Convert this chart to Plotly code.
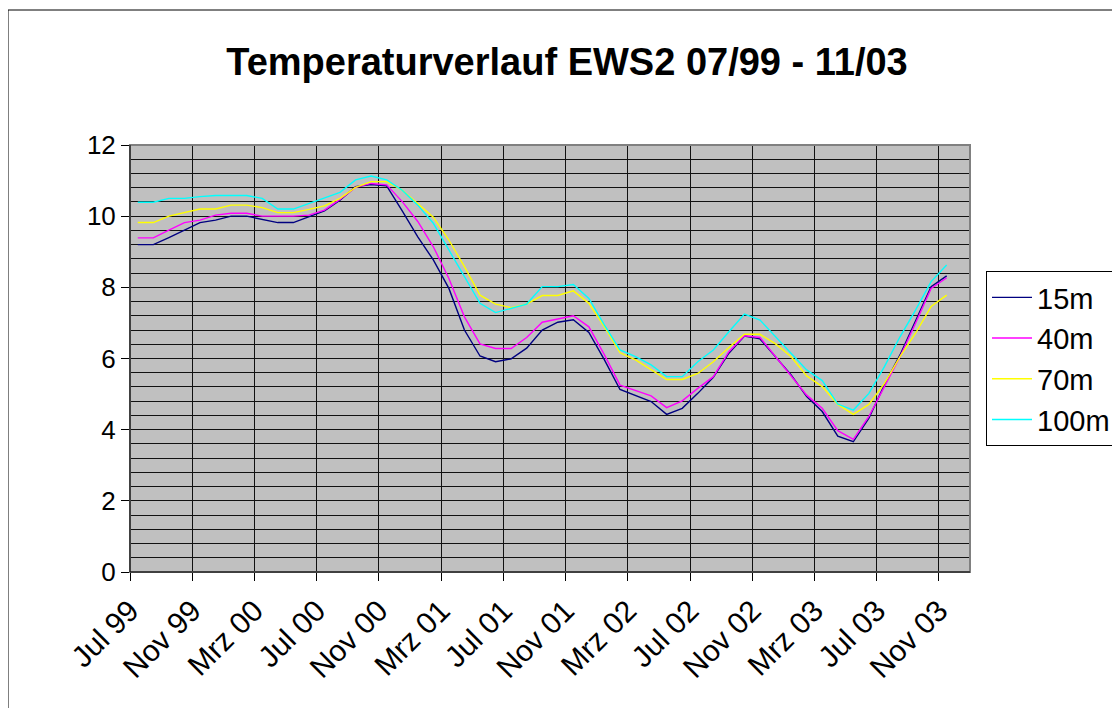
import plotly.graph_objects as go

months = [f"{m} {y:02d}" for y, ms in [(99, ["Jul","Aug","Sep","Okt","Nov","Dez"]),
                                        (0, ["Jan","Feb","Mrz","Apr","Mai","Jun","Jul","Aug","Sep","Okt","Nov","Dez"]),
                                        (1, ["Jan","Feb","Mrz","Apr","Mai","Jun","Jul","Aug","Sep","Okt","Nov","Dez"]),
                                        (2, ["Jan","Feb","Mrz","Apr","Mai","Jun","Jul","Aug","Sep","Okt","Nov","Dez"]),
                                        (3, ["Jan","Feb","Mrz","Apr","Mai","Jun","Jul","Aug","Sep","Okt","Nov"])] for m in ms]

t15 = [9.20, 9.20, 9.40, 9.61, 9.82, 9.89, 10.00, 10.00, 9.91, 9.82, 9.82, 9.99, 10.15, 10.45, 10.83, 10.89, 10.85,
       10.15, 9.42, 8.77, 7.97, 6.80, 6.07, 5.91, 5.99, 6.29, 6.80, 7.02, 7.09, 6.73, 5.96, 5.13, 4.95, 4.79, 4.43,
       4.60, 5.02, 5.47, 6.15, 6.63, 6.55, 6.05, 5.54, 4.93, 4.51, 3.82, 3.66, 4.32, 5.26, 6.10, 7.08, 8.02, 8.32]
t40 = [9.39, 9.39, 9.61, 9.82, 9.89, 10.03, 10.08, 10.08, 10.00, 10.00, 10.00, 10.03, 10.17, 10.47, 10.81, 10.92, 10.88,
       10.41, 9.85, 9.14, 8.25, 7.17, 6.41, 6.28, 6.28, 6.59, 7.02, 7.11, 7.20, 6.89, 6.10, 5.25, 5.11, 4.95, 4.62,
       4.81, 5.16, 5.49, 6.19, 6.64, 6.59, 6.05, 5.54, 4.97, 4.60, 3.97, 3.73, 4.37, 5.21, 6.05, 6.99, 7.97, 8.27]
t70 = [9.82, 9.82, 10.00, 10.10, 10.20, 10.20, 10.31, 10.31, 10.24, 10.10, 10.10, 10.19, 10.29, 10.50, 10.81, 10.97, 10.97,
       10.73, 10.36, 9.97, 9.33, 8.58, 7.78, 7.53, 7.43, 7.53, 7.77, 7.77, 7.90, 7.55, 6.89, 6.16, 5.96, 5.68, 5.41,
       5.41, 5.58, 5.91, 6.31, 6.68, 6.68, 6.41, 6.05, 5.51, 5.21, 4.71, 4.43, 4.71, 5.30, 6.05, 6.71, 7.46, 7.78]
t100 = [10.39, 10.39, 10.50, 10.50, 10.55, 10.58, 10.58, 10.58, 10.50, 10.20, 10.20, 10.36, 10.53, 10.67, 11.02, 11.13, 11.02,
        10.73, 10.31, 9.80, 9.05, 8.30, 7.55, 7.29, 7.41, 7.53, 8.02, 8.02, 8.08, 7.69, 6.94, 6.24, 6.05, 5.82, 5.49,
        5.49, 5.91, 6.24, 6.75, 7.25, 7.08, 6.61, 6.15, 5.68, 5.38, 4.72, 4.55, 5.02, 5.77, 6.61, 7.36, 8.16, 8.63]

series_names = ["15m", "40m", "70m", "100m"]
series_values = [t15, t40, t70, t100]
series_colors = ["#000080", "#FF00FF", "#FFFF00", "#00FFFF"]

tick_labels = ["Jul 99", "Nov 99", "Mrz 00", "Jul 00", "Nov 00", "Mrz 01", "Jul 01",
               "Nov 01", "Mrz 02", "Jul 02", "Nov 02", "Mrz 03", "Jul 03", "Nov 03"]

FONT = "Liberation Sans, Arial, sans-serif"
x_idx = list(range(len(months)))
tick_vals = [i * 4 - 0.5 for i in range(len(tick_labels))]

fig = go.Figure()
for name, vals, col in zip(series_names, series_values, series_colors):
    fig.add_trace(go.Scatter(x=x_idx, y=vals, mode="lines", name=name,
                             line=dict(color=col, width=1.4), text=months,
                             hovertemplate="%{text}: %{y}<extra>" + name + "</extra>"))

OFF = 8  # page body margin
W, H = 1120, 708
PL, PR, PT, PB = 130, 970, 145, 572  # plot area in screenshot coords
L, T = PL - OFF, PT - OFF
pw, ph = PR - PL, PB - PT
R, B = W - L - pw, H - T - ph

def px(x):
    return (x - PL) / pw

def py(y):
    return (PB - y) / ph

fig.update_layout(
    width=W, height=H,
    margin=dict(l=L, r=R, t=T, b=B, autoexpand=False),
    paper_bgcolor="white",
    plot_bgcolor="#C0C0C0",
    font=dict(family=FONT, size=26, color="black"),
    title=dict(text="<b>Temperaturverlauf EWS2 07/99 - 11/03</b>",
               font=dict(family=FONT, size=38, color="black"),
               x=px(567), xanchor="center", xref="paper", y=1 - (62 - OFF) / H, yanchor="middle"),
    showlegend=True,
    legend=dict(x=px(986), y=py(271), xanchor="left", yanchor="top",
                bgcolor="white", bordercolor="black", borderwidth=1,
                font=dict(family=FONT, size=29), itemwidth=40, tracegroupgap=0),
    xaxis=dict(range=[-0.5, 53.5], tickmode="array", tickvals=tick_vals, ticktext=tick_labels,
               tickangle=-45, ticks="outside", ticklen=8, tickcolor="black", tickwidth=1,
               showgrid=True, gridcolor="#111111", gridwidth=1,
               showline=True, linecolor="black", linewidth=1, zeroline=False,
               tickfont=dict(family=FONT, size=30)),
    yaxis=dict(range=[0, 12], dtick=2, tick0=0, ticks="outside", ticklen=8, tickcolor="black",
               showgrid=True, gridcolor="#111111", gridwidth=1,
               minor=dict(dtick=0.4, showgrid=True, gridcolor="#111111", gridwidth=1),
               showline=True, linecolor="black", linewidth=1, zeroline=False,
               tickfont=dict(family=FONT, size=26)),
    shapes=[
        dict(type="rect", xref="paper", yref="paper", x0=0, x1=1, y0=0, y1=1,
             line=dict(color="#808080", width=2), layer="above"),
        dict(type="line", xref="paper", yref="paper", x0=0, x1=0, y0=0, y1=1,
             line=dict(color="black", width=1), layer="above"),
        dict(type="line", xref="paper", yref="paper", x0=0, x1=1, y0=0, y1=0,
             line=dict(color="black", width=1), layer="above"),
        dict(type="rect", xref="paper", yref="paper", x0=px(8), x1=px(1118), y0=py(730), y1=py(10),
             line=dict(color="black", width=1), fillcolor="rgba(0,0,0,0)", layer="below"),
    ],
)

fig.write_html("out.html")
